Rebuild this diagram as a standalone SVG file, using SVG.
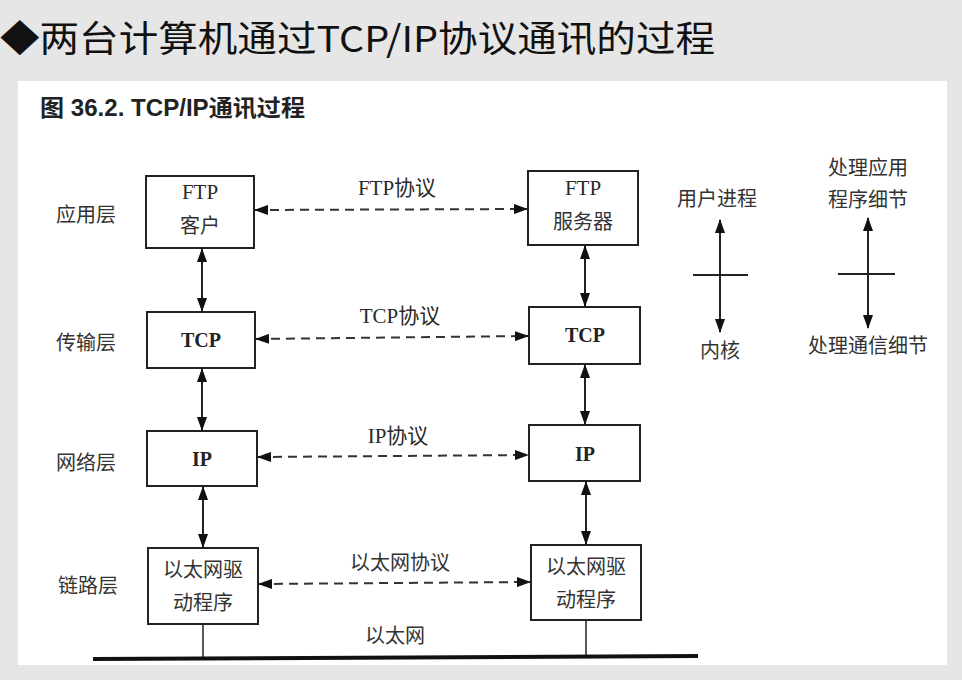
<svg xmlns="http://www.w3.org/2000/svg" width="962" height="680" viewBox="0 0 962 680">
<style>
.box{fill:#fff;stroke:#222;stroke-width:2}
.t{font-family:"Liberation Serif","Noto Sans CJK SC",serif;font-size:21px;fill:#2a2a2a;text-anchor:middle}
.tb{font-family:"Liberation Serif","Noto Sans CJK SC",serif;font-size:20px;font-weight:bold;fill:#222;text-anchor:middle}
.cn{font-family:"Noto Sans CJK SC",sans-serif;font-size:20px;fill:#333;text-anchor:middle}
.solid{stroke:#222;stroke-width:2;fill:none}
.dash{stroke:#333;stroke-width:2;fill:none;stroke-dasharray:9 6}
</style>
<defs>
<marker id="ah" viewBox="0 0 14 10" refX="13" refY="5" markerWidth="14" markerHeight="10" markerUnits="userSpaceOnUse" orient="auto-start-reverse">
<path d="M0,0 L14,5 L0,10 Z" fill="#111"/>
</marker>
</defs>
<rect x="0" y="0" width="962" height="680" fill="#e6e6e6"/>
<rect x="18" y="81" width="929" height="584" fill="#fff"/>
<text x="0" y="52" font-family="'Noto Sans CJK SC',sans-serif" font-size="36" fill="#111" textLength="715" lengthAdjust="spacingAndGlyphs">◆两台计算机通过TCP/IP协议通讯的过程</text>
<text x="40" y="116" font-family="'Liberation Sans','Noto Sans CJK SC',sans-serif" font-size="23" font-weight="bold" fill="#222" textLength="265" lengthAdjust="spacingAndGlyphs">图 36.2. TCP/IP通讯过程</text>

<g id="layers">
<text class="cn" x="86" y="222">应用层</text>
<text class="cn" x="86" y="350">传输层</text>
<text class="cn" x="86" y="470">网络层</text>
<text class="cn" x="88" y="593">链路层</text>
</g>

<g id="ftp-client"><rect class="box" x="146" y="176" width="108" height="72"/><text class="t" x="200" y="199">FTP</text><text class="cn" x="200" y="233">客户</text></g>
<g id="tcp-left"><rect class="box" x="147" y="312" width="108" height="56"/><text class="tb" x="201" y="347">TCP</text></g>
<g id="ip-left"><rect class="box" x="147" y="431" width="110" height="55"/><text class="tb" x="202" y="466">IP</text></g>
<g id="eth-left"><rect class="box" x="148" y="548" width="110" height="76"/><text class="cn" x="203" y="577">以太网驱</text><text class="cn" x="203" y="610">动程序</text></g>

<g id="ftp-server"><rect class="box" x="528" y="171" width="110" height="74"/><text class="t" x="583" y="195">FTP</text><text class="cn" x="583" y="229">服务器</text></g>
<g id="tcp-right"><rect class="box" x="529" y="307" width="111" height="57"/><text class="tb" x="585" y="342">TCP</text></g>
<g id="ip-right"><rect class="box" x="529" y="425" width="111" height="56"/><text class="tb" x="585" y="461">IP</text></g>
<g id="eth-right"><rect class="box" x="531" y="545" width="110" height="75"/><text class="cn" x="586" y="574">以太网驱</text><text class="cn" x="586" y="607">动程序</text></g>

<g id="connectors">
<line class="solid" x1="202" y1="249" x2="202" y2="311" marker-start="url(#ah)" marker-end="url(#ah)"/>
<line class="solid" x1="202" y1="369" x2="202" y2="430" marker-start="url(#ah)" marker-end="url(#ah)"/>
<line class="solid" x1="203" y1="487" x2="203" y2="547" marker-start="url(#ah)" marker-end="url(#ah)"/>
<line class="solid" x1="585" y1="246" x2="585" y2="306" marker-start="url(#ah)" marker-end="url(#ah)"/>
<line class="solid" x1="585" y1="365" x2="585" y2="424" marker-start="url(#ah)" marker-end="url(#ah)"/>
<line class="solid" x1="586" y1="482" x2="586" y2="544" marker-start="url(#ah)" marker-end="url(#ah)"/>
<line class="dash" x1="255" y1="210" x2="527" y2="209" marker-start="url(#ah)" marker-end="url(#ah)"/>
<line class="dash" x1="256" y1="339" x2="528" y2="336" marker-start="url(#ah)" marker-end="url(#ah)"/>
<line class="dash" x1="258" y1="457" x2="528" y2="455" marker-start="url(#ah)" marker-end="url(#ah)"/>
<line class="dash" x1="259" y1="584" x2="530" y2="582" marker-start="url(#ah)" marker-end="url(#ah)"/>
<line stroke="#222" stroke-width="1.5" x1="203" y1="624" x2="203" y2="658"/>
<line stroke="#222" stroke-width="1.5" x1="586" y1="620" x2="586" y2="657"/>
<line stroke="#111" stroke-width="4" x1="93" y1="659" x2="698" y2="656"/>
</g>

<g id="protocol-labels">
<text class="t" x="397" y="195">FTP协议</text>
<text class="t" x="400" y="323">TCP协议</text>
<text class="t" x="398" y="443">IP协议</text>
<text class="cn" x="400" y="570">以太网协议</text>
<text class="cn" x="395" y="643">以太网</text>
</g>

<g id="legend-user">
<text class="cn" x="717" y="206">用户进程</text>
<line class="solid" x1="720" y1="220" x2="720" y2="332" marker-start="url(#ah)" marker-end="url(#ah)"/>
<line class="solid" x1="693" y1="275" x2="748" y2="275"/>
<text class="cn" x="720" y="358">内核</text>
</g>
<g id="legend-detail">
<text class="cn" x="868" y="175">处理应用</text>
<text class="cn" x="868" y="207">程序细节</text>
<line class="solid" x1="868" y1="218" x2="868" y2="328" marker-start="url(#ah)" marker-end="url(#ah)"/>
<line class="solid" x1="838" y1="274" x2="895" y2="274"/>
<text class="cn" x="868" y="353">处理通信细节</text>
</g>
</svg>
